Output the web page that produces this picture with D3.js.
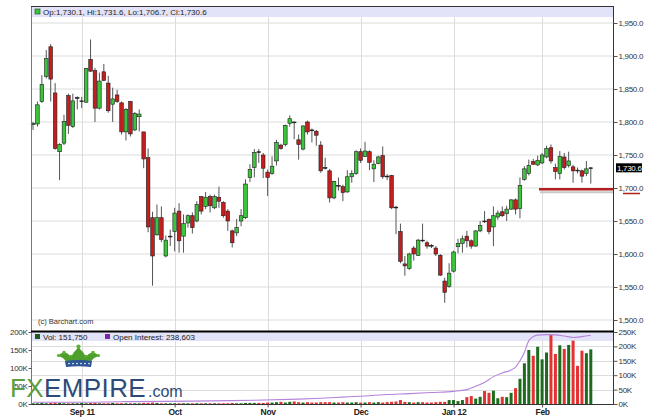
<!DOCTYPE html>
<html><head><meta charset="utf-8">
<script src="https://cdn.jsdelivr.net/npm/d3@7"></script>
<style>body{margin:0;background:#fff}svg{display:block}text{font-family:"Liberation Sans",Arial,sans-serif}</style>
</head><body><svg id="c" width="645" height="420"></svg>
<script>
// ---- data (trading-day index 0 = Aug 17 2011 ... 126 = Feb 16 2012) ----
const opens=[1796,1797,1831,1869,1914,1844,1755,1768,1840,1793,1836,1831,1830,1895,1878,1821,1876,1859,1827,1841,
1829,1785,1831,1788,1808,1785,1746,1655,1629,1655,1597,1626,1634,1665,1627,1647,1658,1650,1687,1672,
1687,1670,1686,1678,1665,1635,1632,1650,1655,1716,1731,1755,1750,1724,1722,1741,1765,1766,1798,1800,
1773,1759,1800,1788,1786,1765,1731,1726,1685,1704,1702,1694,1717,1722,1755,1748,1755,1729,1737,1749,
1718,1719,1671,1634,1585,1578,1609,1598,1621,1617,1613,1609,1598,1559,1551,1574,1611,1616,1627,1620,
1612,1635,1650,1652,1641,1656,1664,1661,1668,1682,1669,1713,1722,1740,1735,1738,1747,1761,1731,1722,
1747,1734,1732,1727,1726,1722,1730.1];
const highs=[1800,1831,1871,1909,1918,1859,1768,1811,1843,1843,1839,1838,1882,1925,1882,1875,1888,1870,1852,1849,
1831,1821,1832,1815,1819,1785,1760,1664,1675,1672,1628,1637,1670,1677,1660,1660,1663,1680,1688,1694,
1690,1690,1702,1680,1668,1637,1653,1668,1713,1736,1759,1759,1753,1728,1748,1773,1767,1796,1810,1801,
1781,1795,1802,1790,1788,1771,1746,1729,1711,1716,1705,1727,1727,1757,1760,1770,1757,1742,1749,1763,
1721,1720,1673,1646,1597,1602,1612,1623,1646,1620,1615,1612,1600,1564,1586,1605,1623,1628,1635,1622,
1636,1650,1665,1654,1672,1666,1672,1673,1683,1684,1716,1733,1743,1744,1749,1753,1764,1766,1737,1756,
1753,1755,1735,1731,1728,1741,1731.6];
const lows=[1788,1793,1829,1866,1831,1758,1712,1765,1782,1791,1819,1821,1829,1876,1800,1819,1862,1814,1800,1829,
1781,1772,1778,1786,1786,1730,1633,1552,1628,1618,1595,1612,1604,1602,1602,1640,1631,1648,1660,1668,
1663,1668,1670,1655,1635,1610,1627,1642,1653,1709,1716,1738,1715,1688,1720,1734,1758,1763,1793,1774,
1743,1757,1781,1769,1764,1723,1728,1678,1683,1696,1680,1693,1708,1720,1738,1747,1727,1709,1736,1714,
1712,1668,1630,1586,1567,1576,1590,1597,1618,1608,1609,1597,1567,1526,1549,1572,1601,1602,1610,1608,
1611,1633,1647,1630,1612,1652,1656,1650,1667,1660,1654,1711,1719,1735,1733,1736,1745,1737,1713,1713,
1728,1731,1708,1722,1708,1718,1706.7];
const closes=[1798,1826,1857,1896,1865,1760,1766,1801,1795,1832,1837,1832,1881,1877,1821,1862,1863,1817,1835,1831,
1785,1819,1782,1813,1812,1744,1641,1597,1655,1622,1621,1627,1662,1620,1646,1658,1640,1675,1665,1686,
1673,1687,1680,1658,1650,1617,1640,1658,1706,1728,1754,1754,1730,1716,1733,1769,1760,1795,1805,1799,
1766,1794,1785,1787,1780,1726,1730,1685,1710,1703,1693,1717,1722,1755,1742,1756,1739,1736,1747,1717,
1717,1670,1670,1589,1582,1600,1600,1621,1620,1612,1612,1600,1568,1542,1571,1603,1616,1623,1620,1612,
1635,1643,1649,1634,1658,1662,1658,1668,1682,1668,1704,1729,1734,1736,1742,1750,1760,1741,1725,1748,
1731,1741,1726,1726,1718,1729,1730.6];
// volume in thousands
const volumeK=[2,2,3,2,3,4,3,2,2,2,2,
3,2,3,3,2,2,2,3,2,2,2,2,2,2,3,3,4,3,2,2,2,
2,2,2,2,2,2,2,2,2,2,2,2,2,3,2,2,3,3,3,3,3,
4,4,5,6,4,6,7,5,4,5,4,4,5,5,5,4,4,5,4,4,5,
4,4,5,4,5,4,5,6,7,11,6,5,4,5,5,4,4,5,6,6,11,
11,8,11,19,22,15,20,36,31,37,16,20,19,31,44,70,113,150,134,159,
124,143,192,139,163,153,164,176,106,148,141,151.75];
// open interest (thousands), read at these trading-day indices
const oiIdx=[0,10,20,30,40,50,60,65,70,75,80,85,90,95,98,100,102,104,106,108,109,110,111,112,113,114,116,118,120,122,124,126];
const oiK=[6,6,8,9,11,13,17,20,24,28,33,36,40,44,50,62,75,95,108,118,128,150,180,220,234,239,241,240,236,231,234,238.603];
const monthTickIdx=[11,32,53,74,95,115];
const monthTickLabels=["Sep 11","Oct","Nov","Dec","Jan 12","Feb"];
const priceTicks=[1500,1550,1600,1650,1700,1750,1800,1850,1900,1950];
const volTicks=[0,50000,100000,150000,200000];
const oiTicks=[0,50000,100000,150000,200000,250000];
const supportLevel=1698, supportStartIdx=114.3;
const last={op:1730.1,hi:1731.6,lo:1706.7,cl:1730.6,vol:151750,oi:238603};

// ---- layout ----
const L=31,R=613,T=6,MB=331,VB=404;
const svg=d3.select("#c");
const x=d3.scaleLinear().domain([0,126]).range([33,590.8]);
const y=d3.scaleLinear().domain([1500,1950]).range([320,23]);
const yv=d3.scaleLinear().domain([0,200000]).range([VB,332]);
const yo=d3.scaleLinear().domain([0,250000]).range([VB,332]);
const idx=d3.range(opens.length);
const gridC="#dcdcdc", bandC="#e2e2f8";
const upC="#3cc43c", dnC="#c41e1e";

svg.append("rect").attr("width",645).attr("height",420).attr("fill","#fff");
// bands
svg.append("rect").attr("x",L).attr("y",T).attr("width",R-L).attr("height",11).attr("fill",bandC);
svg.append("rect").attr("x",L).attr("y",332).attr("width",R-L).attr("height",9).attr("fill",bandC);
// grids
svg.append("g").selectAll("line").data(priceTicks).join("line")
 .attr("x1",L).attr("x2",R).attr("y1",d=>y(d)).attr("y2",d=>y(d)).attr("stroke",gridC);
svg.append("g").selectAll("line").data(oiTicks.slice(1,5)).join("line")
 .attr("x1",L).attr("x2",R).attr("y1",d=>Math.round(yo(d))+0.5).attr("y2",d=>Math.round(yo(d))+0.5).attr("stroke",gridC);
svg.append("g").selectAll("line").data(monthTickIdx).join("line")
 .attr("x1",d=>Math.round(x(d))+0.5).attr("x2",d=>Math.round(x(d))+0.5).attr("y1",17).attr("y2",MB).attr("stroke",gridC);
svg.append("g").selectAll("line").data(monthTickIdx).join("line")
 .attr("x1",d=>Math.round(x(d))+0.5).attr("x2",d=>Math.round(x(d))+0.5).attr("y1",341).attr("y2",VB).attr("stroke",gridC);

// support line
svg.append("line").attr("x1",x(supportStartIdx)+1).attr("x2",R).attr("y1",y(supportLevel)+3).attr("y2",y(supportLevel)+3)
 .attr("stroke","#c8c8c8").attr("stroke-width",2);
svg.append("line").attr("x1",x(supportStartIdx)).attr("x2",R).attr("y1",y(supportLevel)).attr("y2",y(supportLevel))
 .attr("stroke","#b21e1e").attr("stroke-width",2.6);

// candles
const isUp=i=>closes[i]>=opens[i];
const cg=svg.append("g");
cg.selectAll("line").data(idx).join("line")
 .attr("x1",i=>x(i)).attr("x2",i=>x(i)).attr("y1",i=>y(highs[i])).attr("y2",i=>y(lows[i]))
 .attr("stroke","#555").attr("stroke-width",1);
cg.selectAll("rect").data(idx).join("rect")
 .attr("x",i=>x(i)-1.8).attr("width",3.6)
 .attr("y",i=>y(Math.max(opens[i],closes[i])))
 .attr("height",i=>Math.max(0.8,Math.abs(y(opens[i])-y(closes[i]))))
 .attr("fill",i=>Math.abs(opens[i]-closes[i])<1.5?"#222":(isUp(i)?upC:dnC))
 .attr("stroke","#1e1e1e").attr("stroke-width",0.6);

// volume bars
svg.append("g").selectAll("rect").data(idx).join("rect")
 .attr("x",i=>x(i)-1.5).attr("width",3)
 .attr("y",i=>yv(volumeK[i]*1000)).attr("height",i=>VB-yv(volumeK[i]*1000))
 .attr("fill",i=>isUp(i)?"#1d6b1d":"#e23232");
// open interest line
svg.append("path").datum(oiIdx.map((d,k)=>[d,oiK[k]*1000]))
 .attr("d",d3.line().x(d=>x(d[0])).y(d=>yo(d[1])).curve(d3.curveMonotoneX))
 .attr("fill","none").attr("stroke","#b583dc").attr("stroke-width",1.1);

// borders
svg.append("line").attr("x1",L+0.5).attr("x2",L+0.5).attr("y1",T).attr("y2",VB).attr("stroke","#777");
svg.append("line").attr("x1",R+0.5).attr("x2",R+0.5).attr("y1",T).attr("y2",VB).attr("stroke","#333");
svg.append("line").attr("x1",L).attr("x2",R).attr("y1",T+0.5).attr("y2",T+0.5).attr("stroke","#333");
svg.append("line").attr("x1",L).attr("x2",R+1).attr("y1",MB+0.5).attr("y2",MB+0.5).attr("stroke","#000").attr("stroke-width",2);
svg.append("line").attr("x1",L).attr("x2",R+1).attr("y1",VB+0.5).attr("y2",VB+0.5).attr("stroke","#333");

function styleAxis(g,size,bold){
 g.select(".domain").remove();
 g.selectAll("text").attr("font-size",size).attr("font-family","Liberation Sans, Arial, sans-serif")
  .attr("fill","#333").attr("letter-spacing","-0.3").attr("font-weight",bold?"bold":"normal");
 g.selectAll("line").attr("stroke","#555");
}
styleAxis(svg.append("g").attr("transform",`translate(${R+0.5},0)`)
 .call(d3.axisRight(y).tickValues(priceTicks).tickSize(4).tickPadding(1).tickFormat(d3.format(",.1f"))),8);
styleAxis(svg.append("g").attr("transform",`translate(${R+0.5},0)`)
 .call(d3.axisRight(yo).tickValues(oiTicks).tickSize(4).tickPadding(1).tickFormat(d=>d/1000+"K")),8);
styleAxis(svg.append("g").attr("transform",`translate(${L+0.5},0)`)
 .call(d3.axisLeft(yv).tickValues(volTicks).tickSize(3).tickPadding(1).tickFormat(d=>d/1000+"K")),8);
const xa=svg.append("g").attr("transform",`translate(0,${VB+0.5})`)
 .call(d3.axisBottom(x).tickValues(monthTickIdx).tickSize(3).tickPadding(1).tickFormat((d,k)=>monthTickLabels[k]));
styleAxis(xa,8.5,true);
xa.selectAll("text").attr("fill","#222");

// last price box
const fmt=d3.format(",.1f");
svg.append("rect").attr("x",616).attr("y",y(last.cl)-4.5).attr("width",26).attr("height",9).attr("fill","#000");
svg.append("text").attr("x",617).attr("y",y(last.cl)+3).attr("font-size",8).attr("letter-spacing","-0.3").attr("fill","#fff").text(fmt(last.cl));
// red mark under 1,700 label
svg.append("line").attr("x1",623).attr("x2",640).attr("y1",y(1700)+5.5).attr("y2",y(1700)+5.5).attr("stroke","#b21e1e").attr("stroke-width",1.5);

// legends
svg.append("rect").attr("x",35).attr("y",9).attr("width",5).attr("height",5).attr("fill",upC).attr("stroke","#1e5e1e").attr("stroke-width",0.7);
svg.append("text").attr("x",43).attr("y",14.5).attr("font-size",8).attr("fill","#222")
 .text(`Op:${fmt(last.op)}, Hi:${fmt(last.hi)}, Lo:${fmt(last.lo)}, Cl:${fmt(last.cl)}`);
svg.append("rect").attr("x",35).attr("y",334).attr("width",5).attr("height",5).attr("fill","#1d5a1d");
svg.append("text").attr("x",43).attr("y",339.5).attr("font-size",8).attr("fill","#222").text("Vol: "+d3.format(",")(last.vol));
svg.append("rect").attr("x",105).attr("y",334).attr("width",5).attr("height",5).attr("fill","#7a2aa8");
svg.append("text").attr("x",113).attr("y",339.5).attr("font-size",8).attr("fill","#222").text("Open Interest: "+d3.format(",")(last.oi));
svg.append("text").attr("x",38).attr("y",324).attr("font-size",7.5).attr("fill","#333").text("(c) Barchart.com");

// FXEMPIRE logo
const lg=svg.append("g");
lg.append("path").attr("d","M58 356 C62 351 68 352 71 357 L74 352 C76 350 77 349 78.5 346 C80 349 81 350 83 352 L86 357 C89 352 95 351 99 356 C95 357 92 359 91 362 L66 362 C65 359 62 357 58 356 Z")
 .attr("fill","#4f9f2d");
[[78.5,346.5,2.1],[64,352.5,1.8],[93,352.5,1.8],[58.5,355.5,1.6],[98.5,355.5,1.6],[71,356,1.3],[86,356,1.3]]
 .forEach(c=>lg.append("circle").attr("cx",c[0]).attr("cy",c[1]).attr("r",c[2]).attr("fill","#5cb234"));
lg.append("path").attr("d","M65 361 Q78.5 359 92 361 L91 367 Q78.5 365.5 66 367 Z").attr("fill","#2c5596");
[69,73,77,81,85,89].forEach(cx=>lg.append("circle").attr("cx",cx).attr("cy",363.6).attr("r",0.8).attr("fill","#fff"));
const t=lg.append("text").attr("x",10).attr("y",397).attr("font-family","Liberation Serif, Times New Roman, serif")
 .attr("font-size",26).attr("letter-spacing",0.4);
t.append("tspan").attr("fill","#5e9e3c").text("FX");
t.append("tspan").attr("fill","#2d4b78").text("EMPIRE");
lg.append("text").attr("x",148).attr("y",397).attr("font-size",16).attr("fill","#2d4b78").text(".com");
</script></body></html>
